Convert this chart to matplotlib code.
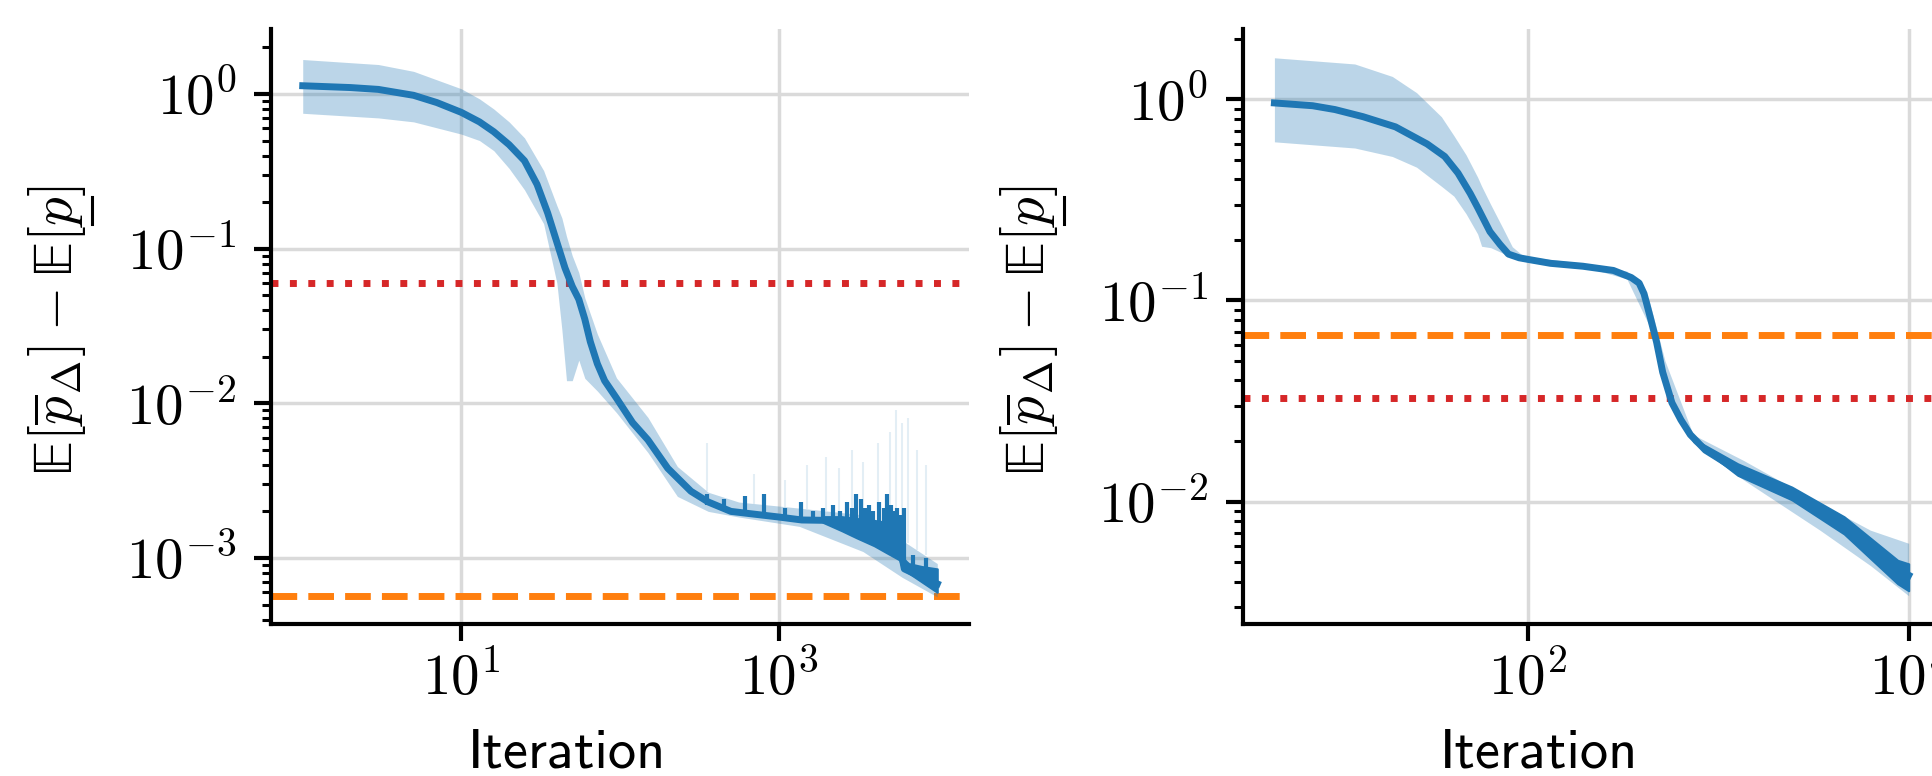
import numpy as np
import matplotlib
matplotlib.use("Agg")
import matplotlib.pyplot as plt
from matplotlib.lines import Line2D
from matplotlib.ticker import FixedLocator, LogLocator, FuncFormatter, NullLocator

# ---------------- data ----------------
# Left panel
L_mean_x = [1, 2, 3, 5, 7, 10, 13, 16, 20, 25, 30, 35, 40, 45, 50, 55, 60, 65, 72, 80,
            95, 120, 150, 200, 280, 360, 500, 700, 1000, 1400, 2000, 2800, 4000, 5000,
            5800, 6200, 8000, 10000]
L_mean_y = [1.13, 1.10, 1.07, 0.98, 0.88, 0.76, 0.66, 0.57, 0.47, 0.37, 0.26, 0.17, 0.11,
            0.075, 0.057, 0.047, 0.035, 0.025, 0.018, 0.014, 0.0108, 0.0075, 0.0058,
            0.0038, 0.0027, 0.0023, 0.0020, 0.00192, 0.00184, 0.00176, 0.00175, 0.00160,
            0.00140, 0.00130, 0.00120, 0.00085, 0.00075, 0.00068]
L_band_x = [1, 3, 5, 10, 13, 16, 20, 25, 33, 40, 43, 46, 50, 55, 60, 72, 95, 150, 230,
            360, 560, 1350, 3400, 6000, 10000]
L_band_lo = [0.75, 0.70, 0.66, 0.55, 0.50, 0.43, 0.33, 0.24, 0.145, 0.06, 0.03, 0.014,
             0.014, 0.019, 0.0145, 0.012, 0.0087, 0.0048, 0.0025, 0.0020, 0.00184, 0.0016,
             0.0011, 0.00075, 0.00056]
L_band_hi = [1.67, 1.55, 1.40, 1.08, 0.93, 0.80, 0.66, 0.52, 0.32, 0.19, 0.158, 0.12,
             0.09, 0.07, 0.048, 0.028, 0.0146, 0.0081, 0.0039, 0.00266, 0.0023, 0.0021,
             0.0019, 0.0013, 0.00092]
# thick noisy part of the mean line (lower / upper envelope)
L_noise_x = [1900, 2500, 3100, 4000, 4800, 5800, 6050, 6600, 8000, 10000]
L_noise_lo = [0.00170, 0.00150, 0.00135, 0.00120, 0.00108, 0.00097, 0.00085, 0.00080,
              0.00070, 0.00060]
L_noise_hi = [0.00185, 0.00185, 0.00180, 0.00175, 0.00170, 0.00160, 0.00100, 0.00092,
              0.00088, 0.00085]
# upward spikes of the mean line
L_spike_x = [356, 450, 617, 809, 1100, 1384, 1650, 1900, 2200, 2450, 2700, 2900, 3090,
             3300, 3500, 3700, 3950, 4300, 4600, 4830, 5100, 5350, 5600, 5900, 6170,
             7000, 8500]
L_spike_top = [0.0026, 0.0024, 0.0025, 0.0026, 0.0021, 0.0023, 0.0020, 0.0021, 0.0022,
               0.0020, 0.0023, 0.0021, 0.0026, 0.0024, 0.0021, 0.0022, 0.0020, 0.0023,
               0.0021, 0.0026, 0.0022, 0.0020, 0.0021, 0.0019, 0.0021, 0.00105, 0.0010]
L_spike_base = [0.0022, 0.0020, 0.0019, 0.0018, 0.0018, 0.0017, 0.0017, 0.0017, 0.0017,
                0.0016, 0.0016, 0.0016, 0.0016, 0.0016, 0.0015, 0.0015, 0.0015, 0.0015,
                0.0015, 0.0015, 0.0014, 0.0014, 0.0014, 0.0013, 0.0009, 0.0008, 0.0008]
# faint upward spikes of the shaded band
L_fspike_x = [356, 700, 1100, 1500, 2000, 2400, 2900, 3400, 4200, 5000, 5500, 6000,
              6500, 7500, 8500]
L_fspike_top = [0.0055, 0.0035, 0.0032, 0.0040, 0.0045, 0.0038, 0.0050, 0.0042, 0.0055,
                0.0065, 0.0090, 0.0075, 0.0080, 0.0050, 0.0040]
L_red = 0.06
L_orange = 5.7e-4

# Right panel
R_mean_x = [1, 2, 3, 5, 9, 16, 22, 28, 35, 40, 50, 60, 70, 85, 100, 150, 270, 470, 650,
            750, 820, 920, 1030, 1150, 1360, 1600, 1900, 2500, 4400, 7700, 13500, 23500,
            41300, 72000, 100000]
R_mean_y = [0.96, 0.93, 0.89, 0.82, 0.73, 0.60, 0.52, 0.43, 0.34, 0.29, 0.22, 0.19, 0.17,
            0.163, 0.160, 0.153, 0.148, 0.141, 0.130, 0.122, 0.108, 0.082, 0.062, 0.044,
            0.031, 0.0255, 0.0215, 0.0180, 0.0144, 0.0125, 0.0105, 0.0083, 0.0064,
            0.0048, 0.0043]
R_band_x = [1, 4.3, 8.5, 13.2, 20.7, 26, 32.4, 40, 43, 50.7, 63, 75, 90, 100, 300, 600,
            900, 1200, 2000, 5000, 20000, 50000, 100000]
R_band_lo = [0.615, 0.573, 0.52, 0.46, 0.37, 0.33, 0.27, 0.214, 0.186, 0.183, 0.172,
             0.165, 0.158, 0.155, 0.145, 0.128, 0.075, 0.040, 0.0195, 0.0128, 0.0072,
             0.0048, 0.0034]
R_band_hi = [1.61, 1.50, 1.30, 1.08, 0.82, 0.66, 0.53, 0.41, 0.37, 0.30, 0.23, 0.185,
             0.168, 0.165, 0.152, 0.140, 0.100, 0.050, 0.0215, 0.0160, 0.0098, 0.0072,
             0.0062]
R_noise_x = [2000, 4500, 12000, 31000, 82000, 100000]
R_noise_lo = [0.0200, 0.0135, 0.0102, 0.0069, 0.0039, 0.0036]
R_noise_hi = [0.0205, 0.0154, 0.0118, 0.0084, 0.0051, 0.0049]
R_orange = 0.067
R_red = 0.0327

# ---------------- style ----------------
plt.rcParams['mathtext.fontset'] = 'cm'
BLUE = '#1f77b4'
ORANGE = '#ff7f0e'
RED = '#d62728'
TICK_FS = 41
LABEL_FS = 40.5
YLAB_FS = 41

EB = r'\mathrm{\mathbb{E}}'
ylab = r'$' + EB + r'[\overline{p}_\Delta] - ' + EB + r'[p]$'
ylab_pre = r'$' + EB + r'[\overline{p}_\Delta] - ' + EB + r'[$'
ylab_prep = r'$' + EB + r'[\overline{p}_\Delta] - ' + EB + r'[p$'

fig = plt.figure(figsize=(19.32, 7.76), dpi=100)
W, H = 1932.0, 776.0
axL = fig.add_axes([271 / W, (H - 624) / H, 698 / W, 595 / H])
axR = fig.add_axes([1242.7 / W, (H - 624) / H, 697.7 / W, 595 / H])

fmt = FuncFormatter(lambda v, p: r'$10^{%d}$' % int(round(np.log10(v))))


def style(ax, xlim, ylim, xt, yt):
    ax.set_xscale('log')
    ax.set_yscale('log')
    ax.set_xlim(*xlim)
    ax.set_ylim(*ylim)
    ax.xaxis.set_major_locator(FixedLocator(xt))
    ax.xaxis.set_minor_locator(NullLocator())
    ax.yaxis.set_major_locator(FixedLocator(yt))
    ax.yaxis.set_minor_locator(LogLocator(base=10, subs=np.arange(2, 10), numticks=50))
    ax.xaxis.set_major_formatter(fmt)
    ax.yaxis.set_major_formatter(fmt)
    for s in ['top', 'right']:
        ax.spines[s].set_visible(False)
    for s in ['left', 'bottom']:
        ax.spines[s].set_linewidth(3.0)
    ax.tick_params(which='major', length=12, width=3.0, labelsize=TICK_FS)
    ax.tick_params(axis='x', which='major', pad=8)
    ax.tick_params(axis='y', which='major', pad=13)
    ax.tick_params(which='minor', length=6.5, width=2.2)
    ax.grid(True, which='major', color='#dadada', lw=2.5, zorder=0)
    ax.set_axisbelow(True)
    ax.set_xlabel('Iteration', family='cmss10', fontsize=LABEL_FS)
    ax.set_ylabel(ylab, fontsize=YLAB_FS)
    ax.xaxis.set_label_coords(0.424, -0.176)
    ax.yaxis.set_label_coords(-0.262, 0.492)


LW = 5.0
# left
axL.axhline(L_red, color=RED, ls=':', lw=5.0, zorder=2)
axL.axhline(L_orange, color=ORANGE, ls='--', lw=5.0, zorder=2)
axL.fill_between(L_band_x, L_band_lo, L_band_hi, color=BLUE, alpha=0.3, lw=0, zorder=3)
axL.vlines(L_fspike_x, np.interp(np.log10(L_fspike_x), np.log10(L_band_x), L_band_hi),
           L_fspike_top, color=BLUE, alpha=0.12, lw=1.5, zorder=3)
axL.plot(L_mean_x, L_mean_y, color=BLUE, lw=LW, zorder=4)
axL.fill_between(L_noise_x, L_noise_lo, L_noise_hi, color=BLUE, lw=1.5, edgecolor=BLUE, zorder=4)
axL.vlines(L_spike_x, L_spike_base, L_spike_top, color=BLUE, lw=3.0, zorder=4)
style(axL, (10 ** -0.2, 10 ** 4.2), (10 ** -3.427, 10 ** 0.42), [10, 1000],
      [1e-3, 1e-2, 1e-1, 1e0])

# right
axR.axhline(R_orange, color=ORANGE, ls='--', lw=5.0, zorder=2)
axR.axhline(R_red, color=RED, ls=':', lw=5.0, zorder=2)
axR.fill_between(R_band_x, R_band_lo, R_band_hi, color=BLUE, alpha=0.3, lw=0, zorder=3)
axR.plot(R_mean_x, R_mean_y, color=BLUE, lw=LW, zorder=4)
axR.fill_between(R_noise_x, R_noise_lo, R_noise_hi, color=BLUE, lw=1.5, edgecolor=BLUE, zorder=4)
style(axR, (10 ** -0.25, 10 ** 5.25), (10 ** -2.609, 10 ** 0.35), [100, 1e5],
      [1e-2, 1e-1, 1e0])

# manual underline below the second p of the y label (mathtext has no \underline)
fig.canvas.draw()
r = fig.canvas.get_renderer()
for ax in (axL, axR):
    lab = ax.yaxis.label
    fp = lab.get_fontproperties()
    bb = lab.get_window_extent(r)
    w_full = r.get_text_width_height_descent(ylab, fp, ismath=True)[0]
    w_pre = r.get_text_width_height_descent(ylab_pre, fp, ismath=True)[0]
    w_prep = r.get_text_width_height_descent(ylab_prep, fp, ismath=True)[0]
    y0 = bb.y0 + (bb.height - w_full) / 2.0
    ya = y0 + w_pre + 1
    yb = y0 + w_prep - 1
    xu = bb.x1 + 4
    fig.add_artist(Line2D([xu, xu], [ya, yb], color='black', lw=2.2, transform=None))

fig.savefig('out.png', dpi=100)
